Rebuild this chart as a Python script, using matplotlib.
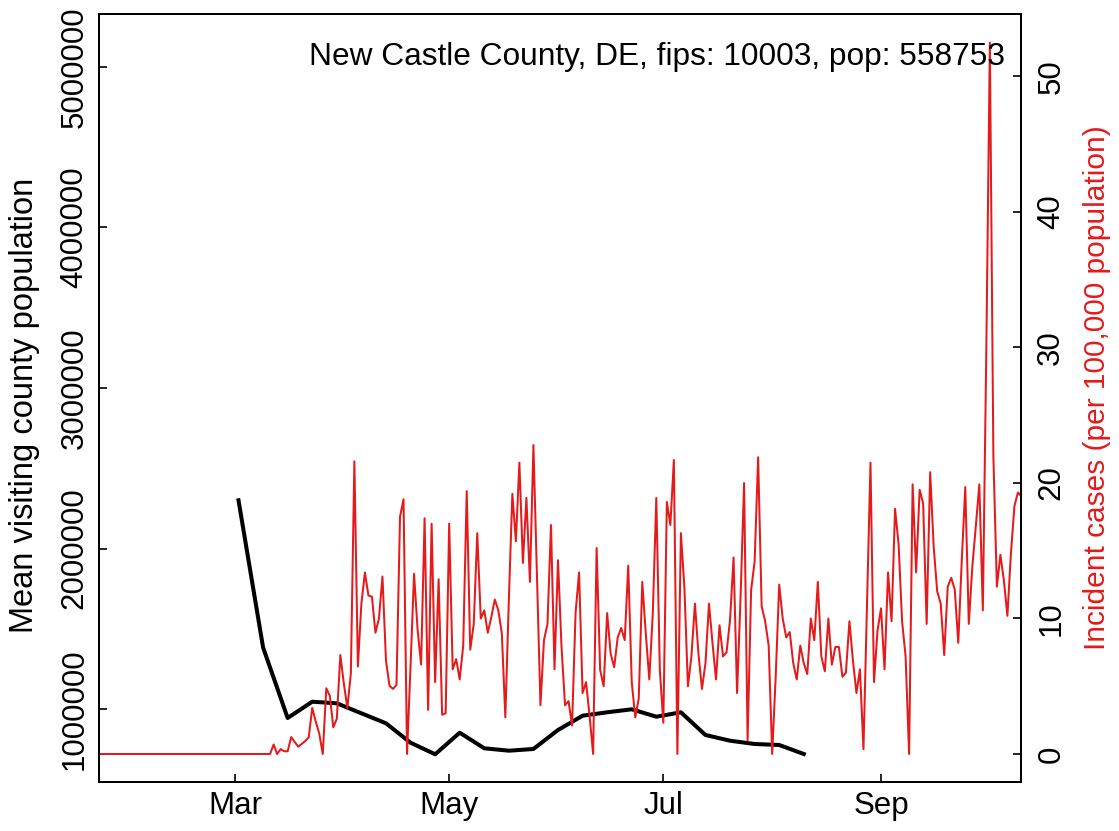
import matplotlib
matplotlib.use('Agg')
import matplotlib.pyplot as plt
import matplotlib.dates as mdates
import pandas as pd

plt.rcParams['font.family'] = ['Liberation Sans', 'DejaVu Sans']

# incident cases per 100k, daily from 2020-01-22
case_start = '2020-01-22'
cases = [
    0, 0, 0, 0, 0, 0, 0, 0, 0, 0,
    0, 0, 0, 0, 0, 0, 0, 0, 0, 0,
    0, 0, 0, 0, 0, 0, 0, 0, 0, 0,
    0, 0, 0, 0, 0, 0, 0, 0, 0, 0,
    0, 0, 0, 0, 0, 0, 0, 0, 0, 0,
    0.7, 0, 0.36, 0.2, 0.2, 1.25, 0.9, 0.54, 0.75, 0.95,
    1.23, 3.4, 2.4, 1.5, 0, 4.85, 4.3, 1.97, 2.6, 7.3,
    5.2, 3.4, 5.95, 21.6, 6.45, 11.1, 13.4, 11.7, 11.6, 8.95,
    10.0, 13.1, 6.9, 5.04, 4.8, 5.1, 17.5, 18.8, 0, 6.5,
    13.3, 9.2, 6.6, 17.4, 3.25, 17.0, 5.3, 12.9, 2.9, 3.0,
    17.0, 6.25, 7.0, 5.5, 8.0, 19.4, 7.7, 9.6, 16.3, 10.0,
    10.6, 8.95, 10.1, 11.4, 10.6, 8.9, 2.7, 11.4, 19.2, 15.7,
    21.5, 14.1, 18.9, 12.7, 22.8, 13.1, 3.6, 8.4, 9.6, 16.9,
    6.25, 14.3, 7.9, 3.6, 3.9, 2.1, 10.4, 13.4, 4.5, 5.3,
    2.8, 0, 15.2, 6.2, 5.0, 10.4, 7.4, 6.4, 8.6, 9.3,
    8.4, 13.9, 5.3, 2.7, 4.1, 12.7, 8.9, 5.5, 10.4, 18.9,
    6.2, 2.3, 18.6, 16.9, 21.7, 0, 16.3, 12.3, 5.0, 7.2,
    11.1, 7.4, 4.8, 6.7, 11.1, 8.2, 5.5, 9.5, 7.2, 7.5,
    9.9, 14.5, 4.5, 11.6, 20.0, 1.0, 12.1, 14.2, 21.9, 10.9,
    9.8, 8.0, 0, 5.7, 12.5, 10.0, 8.6, 9.0, 6.7, 5.5,
    8.0, 6.7, 5.9, 10.0, 8.4, 12.7, 7.2, 6.1, 10.0, 6.6,
    7.9, 7.9, 5.7, 6.0, 9.8, 6.9, 4.5, 6.25, 0.35, 10.9,
    21.5, 5.3, 9.1, 10.75, 6.25, 13.4, 9.8, 18.1, 15.5, 9.8,
    7.2, 0, 19.9, 13.4, 19.5, 18.5, 9.6, 20.8, 15.3, 12.0,
    11.1, 7.3, 12.35, 13.0, 12.15, 8.2, 14.3, 19.7, 9.6, 13.8,
    16.8, 19.9, 10.6, 30.0, 52.5, 22.0, 12.35, 14.7, 12.8, 10.2,
    14.8, 18.3, 19.3, 19.0,
]

# mean visiting county population, weekly from 2020-03-02
visit_start = '2020-03-02'
visitors = [
    2300000, 1383600, 944600, 1046000, 1036000, 973800, 911600, 790800,
    718600, 853000, 755900, 741000, 751600, 869900, 958900, 980100,
    998800, 952700, 980100, 838700, 803200, 782700, 776500, 720400,
]

label = 'New Castle County, DE, fips: 10003, pop: 558753'
month_ticks = ['2020-03-01', '2020-05-01', '2020-07-01', '2020-09-01']
month_labels = ['Mar', 'May', 'Jul', 'Sep']

red = '#E41A1C'
fs = 22.5

case_dates = pd.date_range(case_start, periods=len(cases), freq='D')
visit_dates = pd.date_range(visit_start, periods=len(visitors), freq='7D')

fig = plt.figure(figsize=(11.19, 8.31), dpi=100)
ax = fig.add_axes([99.3 / 1119, (831 - 782.3) / 831, 921.7 / 1119, 768 / 831])
ax.plot(visit_dates, visitors, color='black', lw=2.9, solid_joinstyle='round')
ax.set_ylim(544200, 5326300)
ax.set_yticks([1000000, 2000000, 3000000, 4000000, 5000000])
ax.set_yticklabels(['1000000', '2000000', '3000000', '4000000', '5000000'],
                   rotation=90, va='center')

mar1 = mdates.date2num(pd.Timestamp('2020-03-01'))
ax.set_xlim(mar1 - 38.65, mar1 + 223.87)
ax.set_xticks([mdates.date2num(pd.Timestamp(d)) for d in month_ticks])
ax.set_xticklabels(month_labels)

ax2 = ax.twinx()
ax2.plot(case_dates, cases, color=red, lw=1.45)
ax2.set_ylim(-2.089, 54.59)
ax2.set_yticks([0, 10, 20, 30, 40, 50])
ax2.set_yticklabels(['0', '10', '20', '30', '40', '50'], rotation=90, va='center')
ax2.set_xlim(mar1 - 38.65, mar1 + 223.87)

for a in (ax, ax2):
    for s in a.spines.values():
        s.set_linewidth(1.4)
    a.tick_params(direction='in', length=5.8, width=1.2, labelsize=fs)
ax.tick_params(axis='y', pad=7)
ax.tick_params(axis='x', pad=6)
ax2.tick_params(axis='y', pad=11)

fig.text(25 / 1119, 1 - 405 / 831, 'Mean visiting county population', rotation=90,
         ha='center', va='center', fontsize=23.5)
fig.text(1097 / 1119, 1 - 388 / 831, 'Incident cases (per 100,000 population)', rotation=90,
         ha='center', va='center', fontsize=21.5, color=red)
ax2.text(0.9826, 0.934, label, transform=ax2.transAxes, ha='right', va='baseline', fontsize=22.8)

fig.savefig('out.png', dpi=100)
